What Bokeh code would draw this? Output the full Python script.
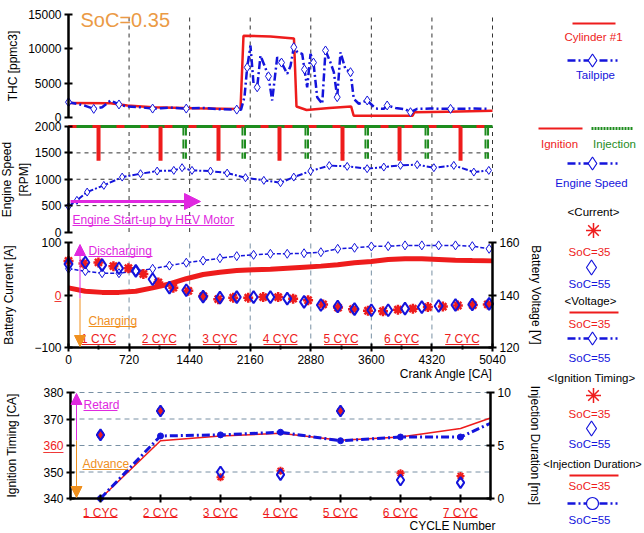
from bokeh.plotting import figure
from bokeh.models import Range1d, LinearAxis, FixedTicker, Label, Arrow, NormalHead
from bokeh.embed import file_html
from bokeh.resources import INLINE
from bokeh.core.properties import value

FONT = "Liberation Sans"
RED = "#ee1c1c"
BLUE = "#1414dc"
GREEN = "#1e8c1e"
MAGENTA = "#e028e0"
ORANGE = "#f0901e"
SOC_ORANGE = "#eb9a45"
GRIDB = "#7890a4"
GRIDK = "#333333"

# ---------------- data ----------------
ca_ticks = [0, 720, 1440, 2160, 2880, 3600, 4320, 5040]
ca_minor = [360, 1080, 1800, 2520, 3240, 3960, 4680]
cycle_names = ["1 CYC", "2 CYC", "3 CYC", "4 CYC", "5 CYC", "6 CYC", "7 CYC"]
cycle_mid_ca = [360, 1080, 1800, 2520, 3240, 3960, 4680]

thc_ticks = [0, 5000, 10000, 15000]
thc_cyl_ca = [0, 500, 700, 1000, 1500, 2000, 2045, 2080, 2400, 2680, 2710, 2830, 3100, 3360,
              3390, 4090, 4110, 4500, 5040]
thc_cyl = [2100, 2080, 1750, 1500, 1350, 1250, 1300, 11900, 11800, 11500, 1600, 1100, 1400, 1600,
           250, 250, 750, 850, 1000]
thc_tp_ca = [0, 100, 200, 300, 400, 500, 600, 700, 850, 1000, 1100, 1200, 1400, 1600, 1800, 2000, 2050,
             2092, 2124, 2163, 2199, 2243, 2282, 2322, 2377, 2421, 2481, 2532, 2600, 2639, 2678, 2722,
             2778, 2805, 2837, 2877, 2912, 2956, 3016, 3055, 3114, 3154, 3194, 3233, 3293, 3352, 3391,
             3451, 3551, 3650, 3748, 3788, 3887, 4006, 4065, 4145, 4303, 4541, 4779, 4996]
thc_tp = [2230, 2000, 1700, 1260, 1500, 2480, 1900, 1600, 1500, 1300, 1350, 1450, 1300, 1400, 1200, 1150, 1120,
          3000, 7300, 10480, 5000, 4400, 9000, 7800, 6000, 2480, 8780, 8000, 6360, 7500, 10240, 9500,
          9270, 7000, 4400, 9270, 8000, 2960, 2000, 9760, 8000, 6600, 2960, 9500, 7000, 6600, 2720,
          2000, 2480, 1300, 1260, 1750, 1400, 1200, 770, 1260, 1300, 1260, 1300, 1260]

rpm_ticks = [0, 500, 1000, 1500, 2000]
rpm_grid = [500, 1000, 1500]
es_ca = [0, 100, 222, 420, 638, 856, 1054, 1252, 1350, 1468, 1688, 1886, 2104, 2322, 2520, 2678, 2877,
         3100, 3313, 3550, 3748, 3946, 4145, 4343, 4580, 4818, 4996]
es_rpm = [486, 600, 757, 884, 1041, 1105, 1155, 1168, 1219, 1168, 1155, 1117, 1030, 979, 935, 1041, 1155,
          1260, 1244, 1200, 1231, 1263, 1276, 1219, 1263, 1136, 1168]
signal_level = 2000
ign_pulse_ca = [357, 1094, 1783, 2508, 3257, 3935, 4660]
ign_pulse_low = 1350
inj_pulse_ca = [1366, 2068, 2817, 3530, 4244, 4957]
inj_pulse_low = 1390

cur_ticks = [-100, 0, 100]
volt_ticks = [120, 140, 160]
cur35_ca = [0, 178, 356, 534, 712, 890, 1068, 1246, 1424, 1602, 1780, 1958, 2136, 2314, 2492, 2670, 2848,
            3026, 3204, 3382, 3560, 3738, 3916, 4094, 4272, 4450, 4628, 4806, 4984]
cur35 = [65, 60, 62, 55, 51, 40, 24, 14, 8, -2, -8, -5, -5, -4, -4, -7, -10,
         -18, -24, -27, -30, -31, -28, -26, -23, -22, -20, -19, -18]
cur55_ca = [0, 200, 400, 600, 800, 1000, 1200, 1400, 1600, 1800, 2000, 2200, 2400, 2600, 2800, 3000,
            3200, 3400, 3600, 3800, 4000, 4200, 4400, 4600, 4800, 5000]
cur55 = [59, 62, 57, 51, 46, 30, 14, 9, -3, -5, -4, -4, -4, -7, -13, -19,
         -22, -27, -29, -29, -26, -23, -21, -19, -18, -17]
volt55 = [150, 149.1, 148.3, 148.3, 149.1, 150, 151.2, 152.3, 153.1, 154, 154.8, 155.3, 155.7, 155.7, 155.9,
          156.3, 157.6, 158, 158.5, 158.6, 158.9, 158.9, 158.9, 158.9, 158.6, 157.6]
volt35_ca = [0, 200, 400, 600, 800, 1000, 1200, 1400, 1600, 1800, 2000, 2200, 2400, 2600, 2800, 3000,
             3200, 3400, 3600, 3800, 4000, 4200, 4400, 4600, 4800, 5040]
volt35 = [142.7, 141.4, 141, 141, 141.4, 142.7, 144.2, 146.2, 147.8, 148.7, 149.3, 149.6, 149.8, 150.2, 150.6,
          151, 151.5, 152.3, 152.8, 153.5, 153.8, 153.8, 153.5, 153.2, 153.1, 153]

cycles = [1, 2, 3, 4, 5, 6, 7]
cycle_minor = [0.5, 1.5, 2.5, 3.5, 4.5, 5.5, 6.5, 7.5]
ign_ticks = [340, 350, 360, 370, 380]
ign_grid = [350, 360, 370, 380]
ms_ticks = [0, 5, 10]
ign35 = [364, 373, 348, 350.5, 373, 349.5, 348.5]
ign55 = [364, 373, 350, 349, 373, 347, 346]
inj_cycle = [1, 2, 3, 4, 5, 6, 7, 7.5]
inj35 = [0, 5.45, 5.9, 6.15, 5.5, 5.8, 6.6, 7.6]
inj55 = [0, 5.9, 6.0, 6.25, 5.45, 5.8, 5.8, 7.1]

# ---------------- canvas: one figure, each panel has its own scales ----------------
W, H = 644, 533
p = figure(width=W, height=H, x_range=Range1d(0, W), y_range=Range1d(H, 0),
           output_backend="svg", toolbar_location=None, min_border=0,
           x_axis_location=None, y_axis_location=None, outline_line_color=None,
           background_fill_color="white", border_fill_color="white")
p.grid.visible = False


def xmap(v0, px0, v1, px1):
    s = (v1 - v0) / (px1 - px0)
    return Range1d(v0 - px0 * s, v1 + (W - px1) * s)


def ymap(v_top, px_top, v_bot, px_bot):
    s = (v_top - v_bot) / (px_bot - px_top)
    return Range1d(v_bot - (H - px_bot) * s, v_top + px_top * s)


p.extra_x_ranges = {"ca": xmap(0, 68, 5040, 492), "cyc": xmap(0.5, 70, 7.5, 490)}
p.extra_y_ranges = {"thc": ymap(15000, 14, 0, 117), "rpm": ymap(2000, 126, 0, 231.5),
                    "cur": ymap(100, 242, -100, 347), "volt": ymap(160, 242, 120, 347),
                    "ign": ymap(380, 392, 340, 498), "ms": ymap(10, 392, 0, 498)}


def style_axis(ax, label_standoff=5):
    ax.axis_line_width = 2.5
    ax.axis_line_color = "black"
    ax.major_tick_line_width = 2
    ax.major_tick_line_color = "black"
    ax.major_tick_in = 4
    ax.major_tick_out = 4
    ax.minor_tick_line_color = "black"
    ax.minor_tick_line_width = 2
    ax.minor_tick_in = 2
    ax.minor_tick_out = 2
    ax.major_label_standoff = 3
    ax.major_label_text_font = FONT
    ax.major_label_text_font_size = "12px"
    ax.major_label_text_color = "black"
    ax.axis_label_text_font = FONT
    ax.axis_label_text_font_size = "12px"
    ax.axis_label_text_font_style = "normal"
    ax.axis_label_text_color = "black"
    ax.axis_label_standoff = label_standoff


def add_axis(side, xr, yr, loc, ticks, bounds, label="", standoff=5, minor=(), overrides=None,
             label_color="black"):
    ax = LinearAxis(x_range_name=xr, y_range_name=yr, fixed_location=loc, bounds=bounds,
                    ticker=FixedTicker(ticks=ticks, minor_ticks=list(minor)), axis_label=label)
    style_axis(ax, standoff)
    ax.major_label_text_color = label_color
    if overrides:
        ax.major_label_overrides = overrides
    p.add_layout(ax, side)
    return ax


def label(x, y, text, color="black", size="12px", align="left"):
    p.add_layout(Label(x=x, y=y, text=text, text_color=color, text_font=FONT, text_font_size=size,
                       text_align=align, text_baseline="middle"))


def underline(x0, x1, y, color):
    p.segment(x0=[x0], y0=[y], x1=[x1], y1=[y], color=color, line_width=1)


def arrow(x0, y0, x1, y1, color, width=1, size=11):
    p.add_layout(Arrow(x_start=x0, y_start=y0, x_end=x1, y_end=y1, line_color=color, line_width=width,
                       end=NormalHead(size=size, fill_color=color, line_color=color)))


# ---------------- panel 1: THC ----------------
n = len(ca_ticks) - 1
p.segment(x0=ca_ticks[1:], y0=[0] * n, x1=ca_ticks[1:], y1=[15000] * n, x_range_name="ca",
          y_range_name="thc", color=GRIDK, line_width=1, line_dash="4 4")
p.line(thc_cyl_ca, thc_cyl, x_range_name="ca", y_range_name="thc", color=RED, line_width=2.5)
p.line(thc_tp_ca, thc_tp, x_range_name="ca", y_range_name="thc", color=BLUE, line_width=2.5,
       line_dash="8 3 2 3")
p.scatter(thc_tp_ca[::3], thc_tp[::3], x_range_name="ca", y_range_name="thc", marker="diamond", size=9,
          fill_color="white", line_color=BLUE, line_width=1)
add_axis("left", "ca", "thc", 0, thc_ticks, (0, 15000), "THC [ppmc3]", 5)
label(80, 19, "SoC=0.35", color=SOC_ORANGE, size="20px")

# ---------------- panel 2: Engine speed ----------------
p.segment(x0=ca_ticks[1:], y0=[0] * n, x1=ca_ticks[1:], y1=[2000] * n, x_range_name="ca",
          y_range_name="rpm", color=GRIDK, line_width=1, line_dash="4 4")
p.segment(x0=[0] * 3, y0=rpm_grid, x1=[5040] * 3, y1=rpm_grid, x_range_name="ca",
          y_range_name="rpm", color=GRIDK, line_width=1, line_dash="4 4")
p.line([0, 5040], [signal_level, signal_level], x_range_name="ca", y_range_name="rpm", color=GREEN,
       line_width=3)
p.line([0, 5040], [signal_level, signal_level], x_range_name="ca", y_range_name="rpm", color=RED,
       line_width=3, line_dash="8 16")
p.segment(x0=ign_pulse_ca, y0=[signal_level] * len(ign_pulse_ca), x1=ign_pulse_ca,
          y1=[ign_pulse_low] * len(ign_pulse_ca), x_range_name="ca", y_range_name="rpm",
          color=RED, line_width=4)
inj_b = [c + 30 for c in inj_pulse_ca]
for xs in (inj_pulse_ca, inj_b):
    p.segment(x0=xs, y0=[signal_level] * len(xs), x1=xs, y1=[inj_pulse_low] * len(xs),
              x_range_name="ca", y_range_name="rpm", color=GREEN, line_width=2, line_dash="9 4")
p.line(es_ca, es_rpm, x_range_name="ca", y_range_name="rpm", color=BLUE, line_width=2,
       line_dash="6 2 2 2")
p.scatter(es_ca, es_rpm, x_range_name="ca", y_range_name="rpm", marker="diamond", size=8,
          fill_color="white", line_color=BLUE, line_width=1)
add_axis("left", "ca", "rpm", 0, rpm_ticks, (0, 2000), "Engine Speed\n[RPM]", 1)
arrow(70, 201, 200, 201, MAGENTA, width=3, size=16)
label(72, 219, "Engine Start-up by HEV Motor", color=MAGENTA)
underline(72, 234, 225, MAGENTA)

# ---------------- panel 3: Battery current / voltage ----------------
p.segment(x0=ca_ticks[1:-1], y0=[-100] * (n - 1), x1=ca_ticks[1:-1], y1=[100] * (n - 1), x_range_name="ca",
          y_range_name="cur", color=GRIDB, line_width=1, line_dash="5 4")
p.line(volt35_ca, volt35, x_range_name="ca", y_range_name="volt", color=RED, line_width=5)
p.line(cur55_ca, volt55, x_range_name="ca", y_range_name="volt", color=BLUE, line_width=1.5,
       line_dash="4 2")
p.scatter(cur55_ca, volt55, x_range_name="ca", y_range_name="volt", marker="diamond", size=9,
          fill_color="white", line_color=BLUE, line_width=1)
p.scatter(cur35_ca, cur35, x_range_name="ca", y_range_name="cur", marker="asterisk", size=10,
          line_color=RED, line_width=2.5)
p.scatter(cur55_ca, cur55, x_range_name="ca", y_range_name="cur", marker="diamond", size=12,
          fill_color=None, line_color=BLUE, line_width=2)
add_axis("left", "ca", "cur", 0, cur_ticks, (-100, 100), "Battery Current [A]", 15, overrides={0: ""})
add_axis("right", "ca", "volt", 5040, volt_ticks, (120, 160), "Battery Voltage [V]", 6)
add_axis("below", "ca", "cur", -100, ca_ticks, (0, 5040), "", 5, minor=ca_minor)
p.text(x=[61, 61], y=[0, 0], text=["0", "_"], x_range_name="default", y_range_name="cur",
       text_color=RED, text_align="right", text_baseline="middle", text_font=value(FONT),
       text_font_size="12px")
p.text(x=cycle_mid_ca, y=[338] * 7, text=cycle_names, x_range_name="ca", text_color=RED,
       text_align="center", text_baseline="middle", text_font=value(FONT), text_font_size="12px")
cyc_half = 17 * 5040 / 424.0
p.segment(x0=[c - cyc_half for c in cycle_mid_ca], y0=[344] * 7, x1=[c + cyc_half for c in cycle_mid_ca],
          y1=[344] * 7, x_range_name="ca", color=RED, line_width=1)
arrow(79.5, 298, 79.5, 244, MAGENTA)
arrow(79.5, 298, 79.5, 346, ORANGE)
label(88, 250, "Discharging", color=MAGENTA)
underline(88, 152, 256, MAGENTA)
label(88, 320, "Charging", color=ORANGE)
underline(88, 136, 326, ORANGE)
label(492, 373, "Crank Angle [CA]", align="right")

# ---------------- panel 4: Ignition timing / Injection duration ----------------
p.segment(x0=[0.5] * 4, y0=ign_grid, x1=[7.5] * 4, y1=ign_grid, x_range_name="cyc", y_range_name="ign",
          color=GRIDB, line_width=1, line_dash="5 4")
p.line(inj_cycle, inj35, x_range_name="cyc", y_range_name="ms", color=RED, line_width=1.5)
p.line(inj_cycle, inj55, x_range_name="cyc", y_range_name="ms", color=BLUE, line_width=3,
       line_dash="8 3 2 3")
p.scatter(inj_cycle[:7], inj55[:7], x_range_name="cyc", y_range_name="ms", marker="circle", size=6,
          fill_color=BLUE, line_color=BLUE)
p.scatter(cycles, ign35, x_range_name="cyc", y_range_name="ign", marker="asterisk", size=8,
          line_color=RED, line_width=2)
p.scatter(cycles, ign55, x_range_name="cyc", y_range_name="ign", marker="diamond", size=11,
          fill_color=None, line_color=BLUE, line_width=2)
add_axis("left", "cyc", "ign", 0.5, ign_ticks, (340, 380), "Ignition Timing [CA]", 21,
         overrides={360: ""})
add_axis("right", "cyc", "ms", 7.5, ms_ticks, (0, 10), "Injection Duration [ms]", 14)
add_axis("below", "cyc", "ign", 340, cycles, (0.5, 7.5), "", 3, minor=cycle_minor,
         overrides={c: nm for c, nm in zip(cycles, cycle_names)}, label_color=RED)
p.text(x=[63, 63], y=[360, 360], text=["360", "___"], y_range_name="ign", text_color=RED,
       text_align="right", text_baseline="middle", text_font=value(FONT), text_font_size="12px")
p.segment(x0=[c - 17 / 60 for c in cycles], y0=[517] * 7, x1=[c + 17 / 60 for c in cycles], y1=[517] * 7,
          x_range_name="cyc", color=RED, line_width=1)
arrow(76, 440, 76, 393, MAGENTA)
arrow(76, 440, 76, 497, ORANGE)
label(83, 404, "Retard", color=MAGENTA)
underline(83, 117, 410, MAGENTA)
label(82, 463, "Advance", color=ORANGE)
underline(82, 127, 469, ORANGE)
label(495, 525, "CYCLE Number", align="right")

# ---------------- legend column ----------------
def leg_line(x0, x1, y, color, width=2, dash="solid"):
    p.line([x0, x1], [y, y], color=color, line_width=width, line_dash=dash)


def leg_mark(x, y, marker, color, size=13, fill="white", width=1.2):
    p.scatter([x], [y], marker=marker, size=size, fill_color=fill, line_color=color, line_width=width)


leg_line(572, 615, 23, RED)
leg_line(567, 617, 60, BLUE, 2.5, "8 3 2 3")
leg_mark(592, 60, "diamond", BLUE)
leg_line(538, 582, 128, RED)
leg_line(591, 632, 128, GREEN, 3, "2 1")
leg_line(567, 617, 163, BLUE, 2.5, "8 3 2 3")
leg_mark(592, 163, "diamond", BLUE)
leg_mark(593, 230, "asterisk", RED, 15, None, 1.5)
leg_mark(591, 267, "diamond", BLUE, 15)
leg_line(569, 618, 312, RED)
leg_line(567, 617, 338, BLUE, 2.5, "8 3 2 3")
leg_mark(592, 338, "diamond", BLUE)
leg_mark(593, 395, "asterisk", RED, 15, None, 1.5)
leg_mark(591, 428, "diamond", BLUE, 15)
leg_line(569, 618, 475, RED)
leg_line(567, 617, 503, BLUE, 2.5, "8 3 2 3")
leg_mark(592, 503, "circle", BLUE, 12)

leg_x = [593, 595, 559, 614, 591, 593, 589, 589, 590, 589, 589, 591, 589, 589, 592, 589, 589]
leg_y = [36, 74, 143, 143, 182, 211, 251, 283, 300, 323, 357, 377, 413, 443, 463, 485, 519]
leg_t = ["Cylinder #1", "Tailpipe", "Ignition", "Injection", "Engine Speed", "<Current>",
         "SoC=35", "SoC=55", "<Voltage>", "SoC=35", "SoC=55", "<Ignition Timing>",
         "SoC=35", "SoC=55", "<Injection Duration>", "SoC=35", "SoC=55"]
leg_c = [RED, BLUE, RED, GREEN, BLUE, "black", RED, BLUE, "black", RED, BLUE, "black",
         RED, BLUE, "black", RED, BLUE]
leg_s = ["11.5px"] * 14 + ["11px"] + ["11.5px"] * 2
p.text(x=leg_x, y=leg_y, text=leg_t, text_color=leg_c, text_align="center", text_baseline="middle",
       text_font=value(FONT), text_font_size=leg_s)

open("out.html", "w").write(file_html(p, INLINE))
